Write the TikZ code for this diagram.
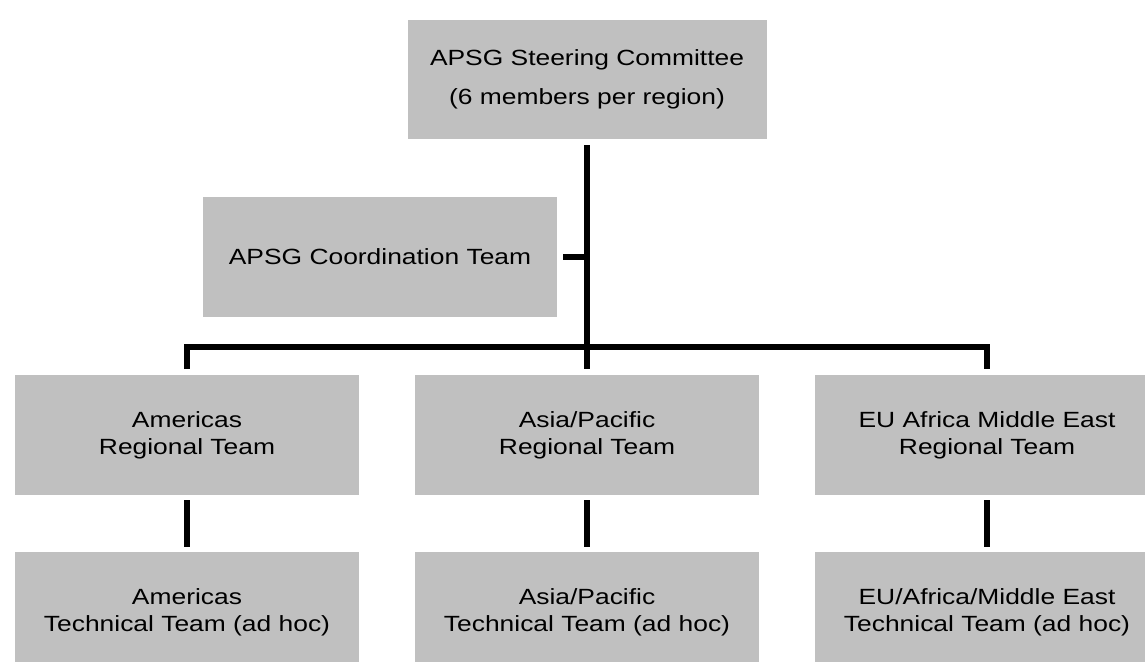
\documentclass[tikz,border=0pt]{standalone}
\usepackage{fontspec}
\setmainfont{Liberation Sans}[FakeStretch=1.2]
\usetikzlibrary{positioning}

\definecolor{boxgray}{RGB}{192,192,192}
\tikzset{
    team/.style={fill=boxgray, inner sep=0pt, outer sep=0pt, align=center,
        minimum width=344pt, minimum height=120pt,
        font=\fontsize{22}{26.7}\selectfont},
    link/.style={line width=6pt}
}

\begin{document}
\begin{tikzpicture}[x=1pt,y=-1pt]
            \useasboundingbox (0,0) rectangle (1145,661);
            \node[team, minimum width=359pt, minimum height=119pt,
                font=\fontsize{22}{39}\selectfont] (steer) at (587,79.5)
                {APSG Steering Committee\\(6 members per region)};
            \node[team, minimum width=354pt] (coord) at (380,257) {APSG Coordination Team};
            \node[team] (amreg) at (187,435) {Americas\\Regional Team};
            \node[team, right=56pt of amreg] (apreg) {Asia/Pacific\\Regional Team};
            \node[team, right=56pt of apreg] (emreg) {EU Africa Middle East\\Regional Team};
            \node[team, below=57pt of amreg] (amtech) {Americas\\Technical Team (ad hoc)};
            \node[team, below=57pt of apreg] (aptech) {Asia/Pacific\\Technical Team (ad hoc)};
            \node[team, below=57pt of emreg] (emtech) {EU/Africa/Middle East\\Technical Team (ad hoc)};
            \coordinate (bus) at ([yshift=28pt]apreg.north);
            \draw[link] ([yshift=-6pt]steer.south) -- (steer.south |- bus);
            \draw[link] ([xshift=6pt]coord.east) -- (coord.east -| bus);
            \draw[link] ([yshift=6pt]amreg.north) |- (bus) -| ([yshift=6pt]emreg.north);
            \draw[link] (bus) -- ([yshift=6pt]apreg.north);
            \foreach \r/\t in {amreg/amtech, apreg/aptech, emreg/emtech}
                \draw[link] ([yshift=-5pt]\r.south) -- ([yshift=5pt]\t.north);
        \end{tikzpicture}
\end{document}
